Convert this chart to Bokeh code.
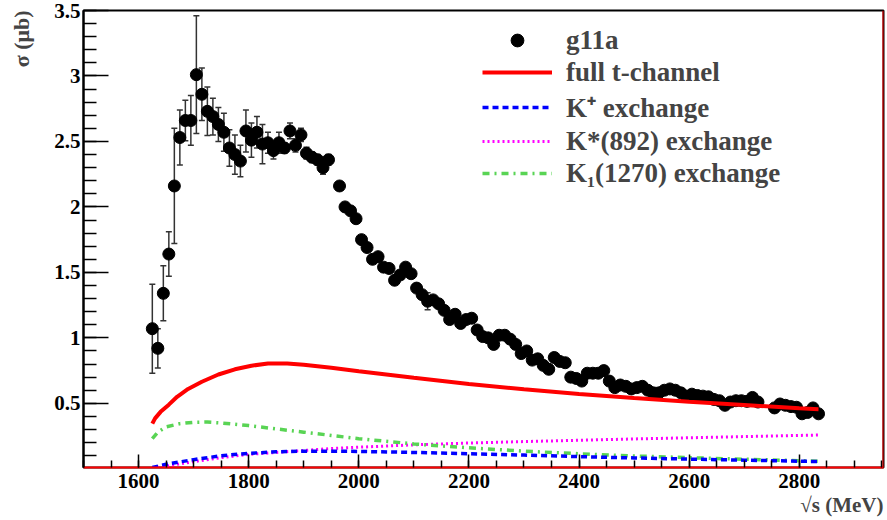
from bokeh.plotting import figure
from bokeh.models import (ColumnDataSource, Whisker, TeeHead, FixedTicker, Legend,
                          LegendItem, Span, Range1d, Title)
from bokeh.embed import file_html
from bokeh.resources import INLINE

# ---------------- data ----------------
X_MIN, X_MAX = 1500, 2953
Y_MIN, Y_MAX = 0.01, 3.5
X_TICKS = [1600, 1800, 2000, 2200, 2400, 2600, 2800]
Y_TICKS = [0.5, 1, 1.5, 2, 2.5, 3, 3.5]
Y_LABELS = ["0.5", "1", "1.5", "2", "2.5", "3", "3.5"]

# g11a data: sqrt(s) [MeV], sigma [mub], error
E = [1625, 1635, 1645, 1655, 1665, 1675, 1685, 1695, 1705, 1715, 1725, 1735, 1745, 1755,
     1765, 1775, 1785, 1795, 1805, 1815, 1825, 1835, 1845, 1855, 1865, 1875, 1885, 1895,
     1905, 1915, 1925, 1935, 1945, 1965, 1975, 1985, 1995, 2005, 2015, 2025, 2035, 2045,
     2055, 2065, 2075, 2085, 2095, 2105, 2115, 2125, 2135, 2145, 2155, 2165, 2175, 2185,
     2195, 2205, 2215, 2225, 2235, 2245, 2255, 2265, 2275, 2285, 2295, 2305, 2315, 2325,
     2335, 2345, 2355, 2365, 2375, 2385, 2395, 2405, 2415, 2425, 2435, 2445, 2455, 2465,
     2475, 2485, 2495, 2505, 2515, 2525, 2535, 2545, 2555, 2565, 2575, 2585, 2595, 2605,
     2615, 2625, 2635, 2645, 2655, 2665, 2675, 2685, 2695, 2705, 2715, 2725, 2755, 2765,
     2775, 2785, 2795, 2805, 2815, 2825, 2835]
SIGMA = [1.07, 0.92, 1.34, 1.64, 2.16, 2.53, 2.66, 2.66, 3.01, 2.86, 2.73, 2.69, 2.63, 2.57,
         2.45, 2.40, 2.35, 2.58, 2.51, 2.57, 2.48, 2.49, 2.43, 2.49, 2.45, 2.58, 2.47, 2.55,
         2.41, 2.38, 2.36, 2.30, 2.36, 2.16, 2.00, 1.97, 1.91, 1.75, 1.69, 1.60, 1.62, 1.54,
         1.53, 1.44, 1.48, 1.54, 1.49, 1.38, 1.33, 1.28, 1.29, 1.26, 1.21, 1.14, 1.18, 1.11,
         1.14, 1.15, 1.06, 1.01, 1.00, 0.95, 1.02, 1.02, 0.99, 0.95, 0.88, 0.90, 0.83, 0.84,
         0.79, 0.76, 0.85, 0.82, 0.81, 0.70, 0.69, 0.67, 0.73, 0.73, 0.73, 0.75, 0.67, 0.62,
         0.64, 0.63, 0.61, 0.62, 0.63, 0.60, 0.58, 0.58, 0.60, 0.61, 0.60, 0.58, 0.555, 0.57,
         0.56, 0.555, 0.55, 0.53, 0.52, 0.485, 0.51, 0.52, 0.52, 0.515, 0.545, 0.51, 0.465, 0.495,
         0.485, 0.475, 0.47, 0.42, 0.43, 0.465, 0.42]
ERR = [0.34, 0.15, 0.21, 0.17, 0.44, 0.21, 0.155, 0.19, 0.45, 0.20, 0.185, 0.14, 0.13, 0.145,
       0.14, 0.15, 0.12, 0.16, 0.13, 0.12, 0.15, 0.08, 0.065, 0.08, 0.04, 0.06, 0.05, 0.05,
       0.045, 0.04, 0.04, 0.05, 0.04, 0.03, 0.025, 0.03, 0.03, 0.03, 0.03, 0.03, 0.03, 0.03,
       0.03, 0.03, 0.03, 0.03, 0.03, 0.03, 0.03, 0.065, 0.03, 0.03, 0.03, 0.03, 0.03, 0.03,
       0.03, 0.03, 0.03, 0.03, 0.03, 0.03, 0.03, 0.03, 0.03, 0.03, 0.03, 0.03, 0.03, 0.03,
       0.03, 0.03, 0.03, 0.03, 0.03, 0.03, 0.03, 0.03, 0.03, 0.03, 0.03, 0.03, 0.03, 0.03,
       0.03, 0.03, 0.03, 0.03, 0.03, 0.03, 0.03, 0.03, 0.03, 0.03, 0.03, 0.03, 0.03, 0.03,
       0.03, 0.03, 0.03, 0.03, 0.03, 0.03, 0.03, 0.03, 0.03, 0.03, 0.03, 0.03, 0.03, 0.03,
       0.03, 0.03, 0.03, 0.03, 0.03, 0.03, 0.03]

# model curves
FULL_E = [1625, 1630, 1640, 1655, 1670, 1690, 1715, 1745, 1775, 1805, 1835, 1870, 1900,
          1950, 2000, 2100, 2200, 2300, 2400, 2500, 2600, 2700, 2800, 2835]
FULL_S = [0.345, 0.385, 0.435, 0.49, 0.55, 0.61, 0.665, 0.72, 0.76, 0.787, 0.805, 0.805, 0.795,
          0.772, 0.745, 0.695, 0.648, 0.607, 0.572, 0.541, 0.513, 0.488, 0.462, 0.455]
KP_E = [1625, 1650, 1700, 1750, 1800, 1850, 1900, 1950, 2000, 2100, 2200, 2300, 2400, 2500,
        2600, 2700, 2800, 2835]
KP_S = [0.01, 0.035, 0.07, 0.10, 0.118, 0.13, 0.135, 0.135, 0.133, 0.125, 0.115, 0.105,
        0.093, 0.083, 0.074, 0.066, 0.058, 0.055]
KS_E = [1625, 1650, 1700, 1750, 1800, 1850, 1900, 1950, 2000, 2100, 2200, 2300, 2400, 2500,
        2600, 2700, 2800, 2835]
KS_S = [0.005, 0.02, 0.055, 0.085, 0.11, 0.125, 0.14, 0.155, 0.165, 0.183, 0.197, 0.208,
        0.218, 0.228, 0.237, 0.246, 0.255, 0.258]
K1_E = [1625, 1635, 1650, 1675, 1700, 1725, 1750, 1800, 1850, 1900, 1950, 2000, 2100, 2200,
        2300, 2400, 2500, 2600, 2700, 2800, 2835]
K1_S = [0.23, 0.28, 0.32, 0.345, 0.355, 0.357, 0.35, 0.33, 0.305, 0.28, 0.255, 0.23, 0.19,
        0.16, 0.135, 0.115, 0.098, 0.085, 0.073, 0.062, 0.058]

LEGEND_LABELS = ["g11a", "full t-channel", "K\u207a exchange", "K*(892) exchange",
                 "K\u2081(1270) exchange"]
X_TITLE = "\u221as (MeV)"
Y_TITLE = "\u03c3 (\u03bcb)"

FONT = "Liberation Serif"

# ---------------- figure ----------------
p = figure(width=887, height=520, x_range=Range1d(X_MIN, X_MAX), y_range=Range1d(Y_MIN, Y_MAX),
           output_backend="svg", toolbar_location=None,
           min_border_left=83, min_border_right=4, min_border_top=10, min_border_bottom=53)
p.grid.visible = False
p.background_fill_color = "white"
p.border_fill_color = "white"
p.outline_line_color = "black"
p.outline_line_width = 2

x_minor = [X_MIN + 50 * i for i in range(30)]
y_minor = [round(0.1 * i, 2) for i in range(1, 36)]
p.xaxis.ticker = FixedTicker(ticks=X_TICKS, minor_ticks=x_minor)
p.yaxis.ticker = FixedTicker(ticks=Y_TICKS, minor_ticks=y_minor)
p.yaxis.major_label_overrides = {t: l for t, l in zip(Y_TICKS, Y_LABELS)}

for ax in (p.xaxis, p.yaxis):
    ax.major_tick_out = 0
    ax.minor_tick_out = 0
    ax.major_tick_line_color = "black"
    ax.minor_tick_line_color = "black"
    ax.major_tick_line_width = 1.5
    ax.minor_tick_line_width = 1.5
    ax.major_label_text_font = FONT
    ax.major_label_text_font_style = "bold"
    ax.major_label_text_font_size = "21px"
    ax.major_label_text_color = "black"
    ax.major_label_standoff = 3
p.xaxis.major_label_standoff = 6
p.xaxis.major_tick_in = 13
p.xaxis.minor_tick_in = 7
p.yaxis.major_tick_in = 25
p.yaxis.minor_tick_in = 13
p.xaxis.axis_line_color = "red"
p.xaxis.axis_line_width = 2
p.yaxis.axis_line_color = "black"
p.yaxis.axis_line_width = 2
# blank spacer label: pushes the ROOT-style title further out to the left
p.yaxis.axis_label = " "
p.yaxis.axis_label_text_font_size = "9px"
p.yaxis.axis_label_standoff = 2

# data points with error bars
src = ColumnDataSource(dict(x=E, y=SIGMA,
                            upper=[s + e for s, e in zip(SIGMA, ERR)],
                            lower=[s - e for s, e in zip(SIGMA, ERR)]))
wcol = "#333333"
whisk = Whisker(source=src, base="x", upper="upper", lower="lower",
                line_color=wcol, line_width=1.5, level="underlay",
                upper_head=TeeHead(size=6, line_color=wcol, line_width=1.5),
                lower_head=TeeHead(size=6, line_color=wcol, line_width=1.5))
p.add_layout(whisk)
r_data = p.scatter("x", "y", source=src, size=12, fill_color="black", line_color="black",
                   fill_alpha=1.0, line_alpha=1.0)

r_ks = p.line(KS_E, KS_S, line_color="#ff00ff", line_width=3, line_dash="2 3")
r_k1 = p.line(K1_E, K1_S, line_color="#59d454", line_width=3.5, line_dash="7 5 2 5")
r_kp = p.line(KP_E, KP_S, line_color="#0000ff", line_width=3.5, line_dash="6 4")
r_full = p.line(FULL_E, FULL_S, line_color="#ff0000", line_width=4)

p.add_layout(Span(location=X_MAX, dimension="height", line_color="red", line_width=2))

legend = Legend(items=[LegendItem(label=LEGEND_LABELS[0], renderers=[r_data]),
                       LegendItem(label=LEGEND_LABELS[1], renderers=[r_full]),
                       LegendItem(label=LEGEND_LABELS[2], renderers=[r_kp]),
                       LegendItem(label=LEGEND_LABELS[3], renderers=[r_ks]),
                       LegendItem(label=LEGEND_LABELS[4], renderers=[r_k1])],
                location=(399, 278), label_text_font=FONT, label_text_font_style="bold",
                label_text_font_size="27px", glyph_width=70, glyph_height=32,
                label_height=32, spacing=0, padding=0, margin=0, label_standoff=14,
                border_line_color=None, background_fill_alpha=0)
p.add_layout(legend)

# axis titles (aligned to the far ends of the axes, ROOT style)
p.add_layout(Title(text=Y_TITLE, align="right", text_font=FONT,
                   text_font_style="bold", text_font_size="22px", standoff=5), "left")
p.add_layout(Title(text=X_TITLE, align="right", text_font=FONT, text_font_style="bold",
                   text_font_size="21px", standoff=0), "below")

open("out.html", "w").write(file_html(p, INLINE))
